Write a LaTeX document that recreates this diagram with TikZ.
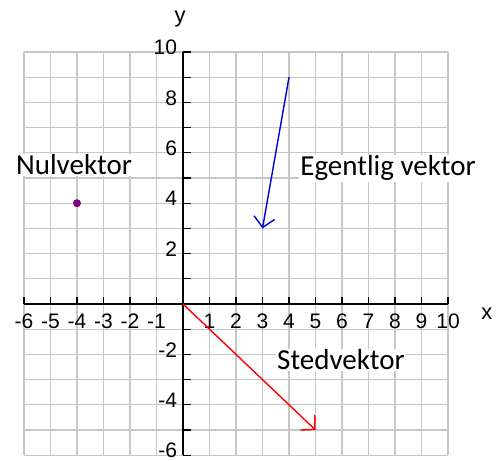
\documentclass[tikz,border=0pt]{standalone}
\usepackage{fontspec}
\setmainfont{Liberation Sans}
\newfontfamily\labelfont{Carlito}
\usepackage{tikz}
\usetikzlibrary{arrows.meta}
\definecolor{dotpurple}{RGB}{128,0,128}

\begin{document}
\begin{tikzpicture}[
    x=26.5pt, y=25.2pt,
    gridline/.style={draw=black!22, line width=1.1pt},
    axis/.style={draw=black, line width=1.4pt},
    num/.style={font=\fontsize{21}{21}\selectfont, inner sep=0pt},
    tag/.style={font=\labelfont\fontsize{29}{29}\selectfont, fill=white, inner sep=1pt, anchor=base},
    vec/.style={line width=1.4pt, -{Straight Barb[length=10pt,width=21pt]}}
]
    \useasboundingbox (-6.906,-6.230) rectangle (12.075,12.063);

    \foreach \x in {-6,...,10} \draw [gridline] (\x,-6) -- (\x,10);
    \foreach \y in {-6,...,10} \draw [gridline] (-6,\y) -- (10,\y);

    \coordinate (xmin) at (-6,0);
    \coordinate (xmax) at (10,0);
    \coordinate (ymin) at (0,-6);
    \coordinate (ymax) at (0,10);
    \draw [axis] (xmin) -- (xmax);
    \draw [axis] (ymin) -- (ymax);
    \foreach \x in {-6,...,10} \draw [axis, line width=1.2pt] (\x,0) -- ++(0pt,7pt);
    \foreach \y in {-6,...,10} \draw [axis, line width=1.2pt] (0,\y) -- ++(8pt,0pt);

    \foreach \x in {-6,...,-1,1,2,...,10} \node [num, anchor=base] (xl\x) at (\x,-0.97) {\x};
    \foreach \y in {-6,-4,-2,2,4,6,8,10} \node [num, anchor=mid east] (yl\y) at (-0.22,\y) {\y};

    \node (xname) [num, font=\fontsize{22}{22}\selectfont, anchor=base] at (11.47,-0.635) {x};
    \node (yname) [num, font=\fontsize{22}{22}\selectfont, anchor=base] at (-0.113,11.16) {y};

    \node (nul) [circle, fill=dotpurple, inner sep=0pt, minimum size=8pt] at (-4,4) {};
    \coordinate (origin) at (0,0);
    \coordinate (stedend) at (5,-5);
    \coordinate (egstart) at (4,9);
    \coordinate (egend) at (3,3);
    \draw [vec, red] (origin) -- (stedend);
    \draw [vec, blue!85!black] (egstart) -- (egend);

    \node (nullabel) [tag] at (-4.113,5.119) {Nulvektor};
    \node (eglabel) [tag] at (7.736,5.079) {Egentlig vektor};
    \node (stedlabel) [tag] at (5.962,-2.619) {Stedvektor};
\end{tikzpicture}
\end{document}
